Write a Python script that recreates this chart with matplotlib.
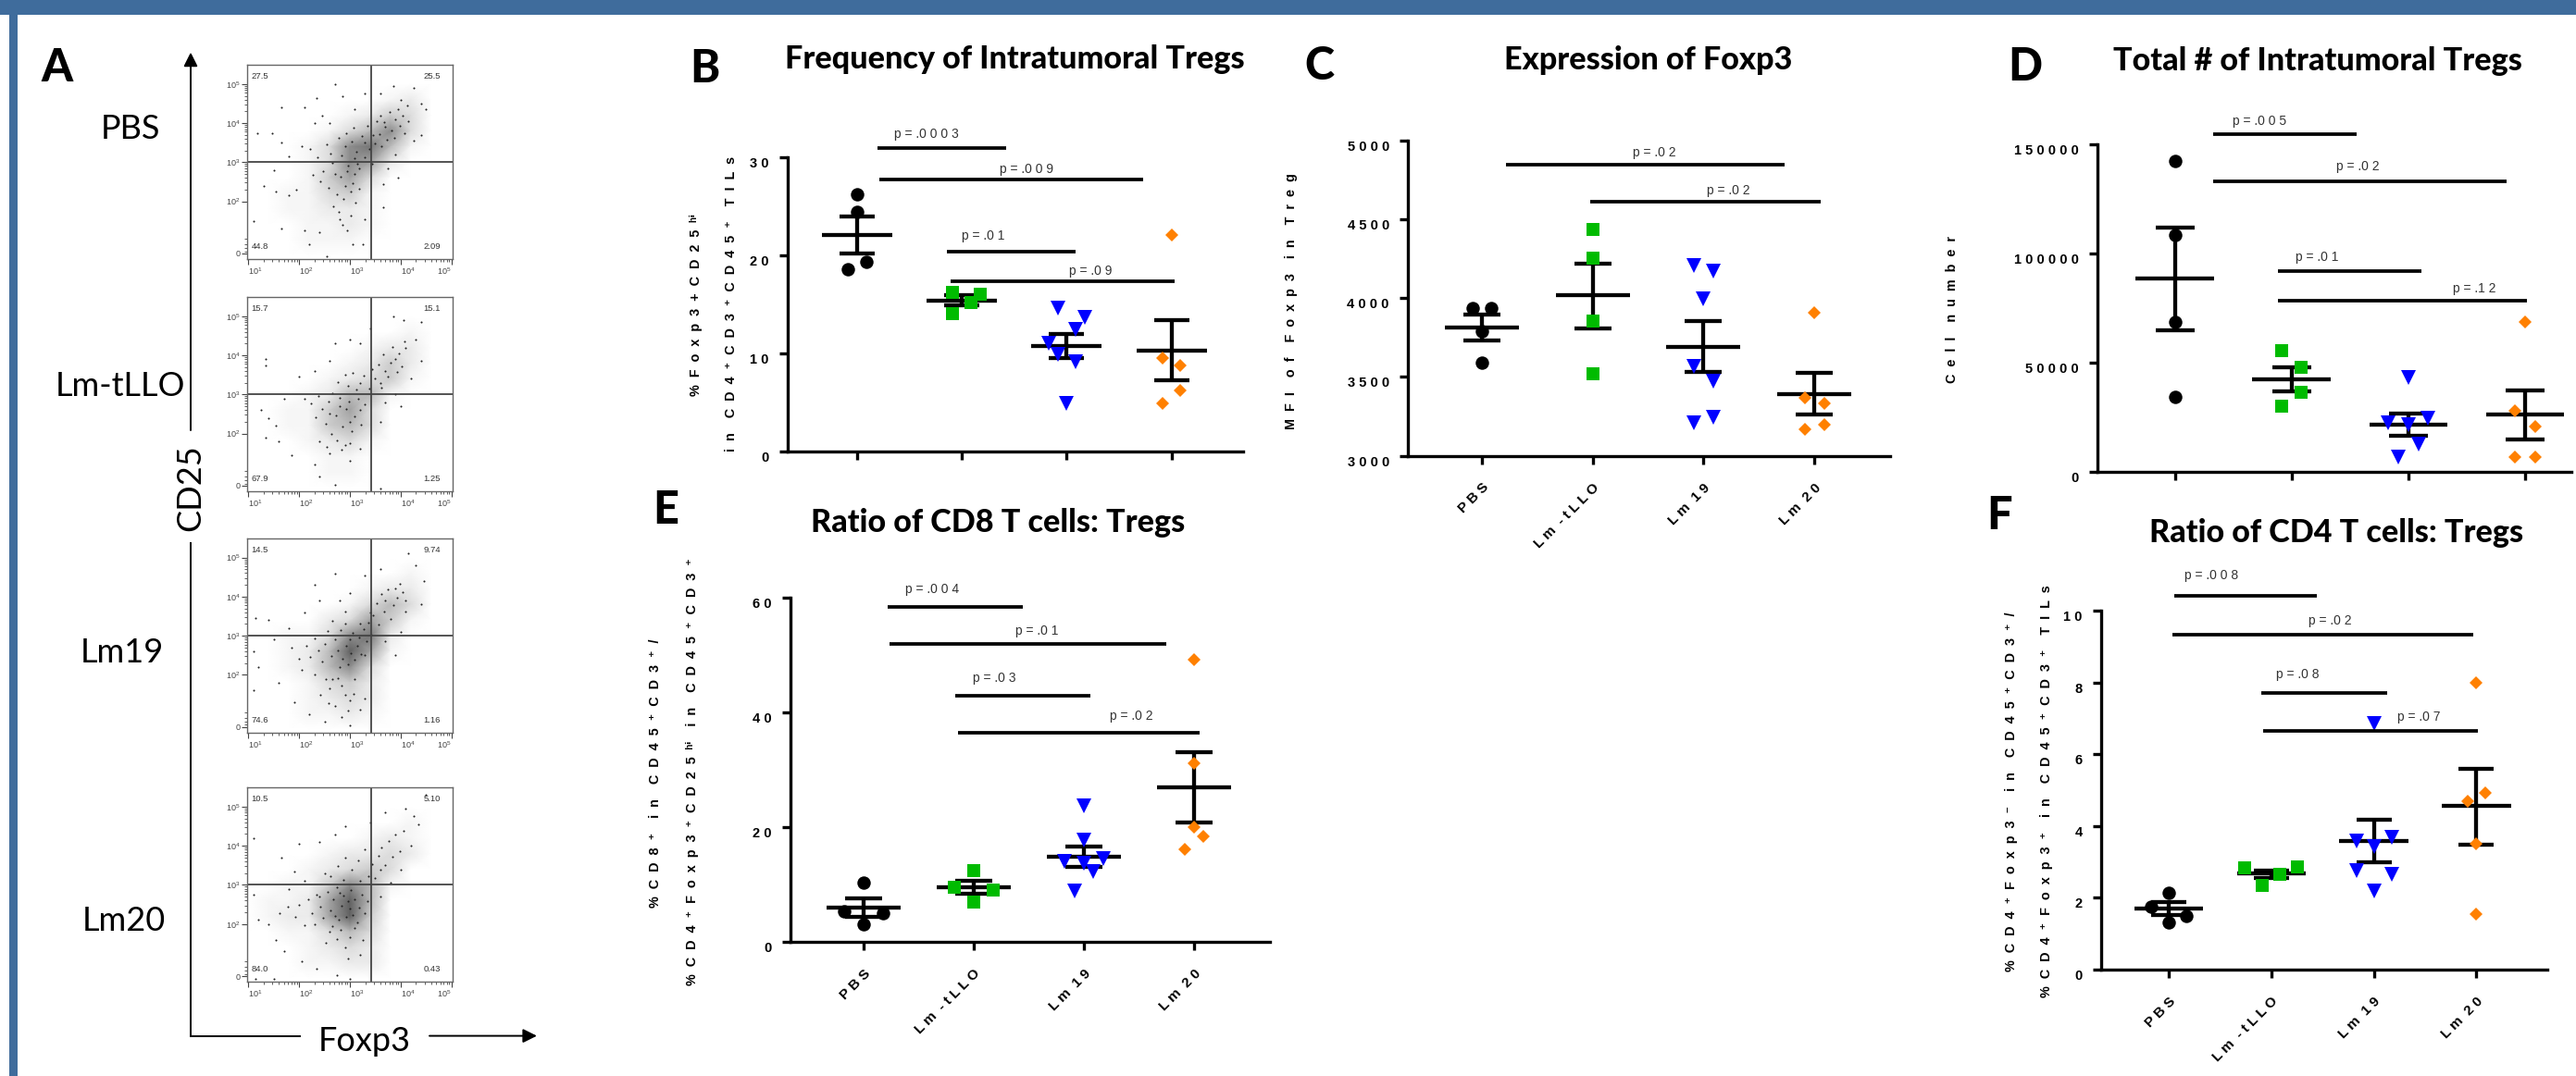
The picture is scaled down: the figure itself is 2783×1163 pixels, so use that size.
import numpy as np
from matplotlib import pyplot as plt
from matplotlib.patches import Rectangle

W, H = 2783, 1163
BLUE = "#3F6C9C"
GROUP_COLORS = ["black", "#00BB00", "#0000FF", "#FF8000"]
GROUP_MARKERS = ["o", "s", "v", "D"]
GROUP_SIZES = [10.4, 10.5, 11, 7.6]
GROUPS = ["P B S", "L m  - t L L O", "L m  1 9", "L m  2 0"]
HEAD_FONT = ["Lato", "DejaVu Sans"]

plt.rcParams["font.family"] = ["Liberation Sans", "DejaVu Sans"]
plt.rcParams["mathtext.default"] = "regular"

# panel B
b_values = [[26.2, 24.4, 19.3, 18.6], [16.2, 16.0, 15.2, 14.1],
            [14.65, 13.65, 12.45, 11.07, 9.87, 9.12, 4.9], [22.08, 9.56, 8.8, 6.26, 4.9]]
b_jitter = [[0, 0, 0.087, -0.087], [-0.087, 0.177, 0.087, -0.087],
            [-0.087, 0.174, 0.087, -0.174, -0.087, 0.087, 0], [0, -0.087, 0.087, 0.087, -0.087]]
b_means = [22.1, 15.4, 10.8, 10.3]
b_low = [20.2, 14.9, 9.56, 7.3]
b_high = [24.0, 15.9, 12.0, 13.4]
b_pvals = [(0.197, 1.424, 30.97, "p = .0 0 0 3", 0.659, 32.4), (0.213, 2.729, 27.74, "p = .0 0 9", 1.617, 28.8),
           (0.860, 2.086, 20.41, "p = .0 1", 1.207, 21.95), (0.891, 3.032, 17.36, "p = .0 9", 2.224, 18.36)]
b_ticks = [0, 10, 20, 30]
b_ticklabels = ["0", "1 0", "2 0", "3 0"]

# panel C
c_values = [[3936, 3936, 3788, 3590], [4437, 4255, 3855, 3519],
            [4205, 4170, 3994, 3566, 3476, 3245, 3209], [3905, 3370, 3330, 3198, 3166]]
c_jitter = [[-0.087, 0.087, 0, 0], [0, 0, 0, 0],
            [-0.087, 0.087, 0, -0.087, 0.087, 0.087, -0.087], [0, -0.087, 0.087, 0.087, -0.087]]
c_means = [3815, 4021, 3691, 3393]
c_low = [3732, 3808, 3532, 3263]
c_high = [3898, 4219, 3855, 3527]
c_pvals = [(0.216, 2.735, 4847, "p = .0 2", 1.56, 4921), (0.978, 3.06, 4612, "p = .0 2", 2.228, 4681)]
c_ticks = [3000, 3500, 4000, 4500, 5000]
c_ticklabels = ["3 0 0 0", "3 5 0 0", "4 0 0 0", "4 5 0 0", "5 0 0 0"]

# panel D
d_values = [[142400, 108300, 68700, 34100], [55300, 47900, 36200, 30100],
            [43000, 24300, 22500, 21400, 12600, 6650], [68400, 27900, 20500, 6650, 6650]]
d_jitter = [[0, 0, 0, 0], [-0.085, 0.085, 0.085, -0.085],
            [0, 0.17, -0.17, 0, 0.085, -0.085], [0, -0.085, 0.085, -0.085, 0.085]]
d_means = [88650, 42400, 21500, 26300]
d_low = [64800, 36900, 16400, 14700]
d_high = [111800, 47900, 26600, 37200]
d_pvals = [(0.331, 1.557, 154700, "p = .0 0 5", 0.725, 160600), (0.331, 2.844, 133100, "p = .0 2", 1.564, 139800),
           (0.885, 2.115, 91900, "p = .0 1", 1.219, 98300), (0.885, 3.018, 78300, "p = .1 2", 2.563, 83900)]
d_ticks = [0, 50000, 100000, 150000]
d_ticklabels = ["0", "5 0 0 0 0", "1 0 0 0 0 0", "1 5 0 0 0 0"]

# panel E
e_values = [[10.4, 5.25, 4.98, 3.03], [12.4, 9.48, 9.08, 6.86],
            [23.7, 17.75, 14.5, 14.0, 13.7, 12.3, 8.8], [49.2, 31.2, 20.0, 18.36, 16.2]]
e_jitter = [[0, -0.173, 0.173, 0], [0, -0.173, 0.173, 0],
            [0, 0, 0.173, -0.173, 0, 0.087, -0.087], [0, 0, 0, 0.087, -0.087]]
e_means = [5.99, 9.55, 14.86, 27.0]
e_low = [4.3, 8.34, 13.05, 20.8]
e_high = [7.6, 10.7, 16.6, 33.1]
e_pvals = [(0.218, 1.446, 58.44, "p = .0 0 4", 0.62, 61.5), (0.233, 2.749, 52.0, "p = .0 1", 1.577, 54.2),
           (0.83, 2.062, 42.9, "p = .0 3", 1.19, 45.9), (0.856, 3.053, 36.45, "p = .0 2", 2.433, 39.4)]
e_ticks = [0, 20, 40, 60]
e_ticklabels = ["0", "2 0", "4 0", "6 0"]

# panel F
f_values = [[2.15, 1.75, 1.5, 1.31], [2.83, 2.85, 2.66, 2.35],
            [6.85, 3.68, 3.58, 3.44, 2.76, 2.66, 2.2], [8.0, 4.93, 4.7, 3.5, 1.54]]
f_jitter = [[0, -0.168, 0.172, 0], [-0.256, 0.256, 0.084, -0.084],
            [0, 0.176, -0.172, 0, -0.172, 0.176, 0], [0, 0.088, -0.084, 0, 0]]
f_means = [1.7, 2.67, 3.58, 4.56]
f_low = [1.51, 2.56, 3.0, 3.49]
f_high = [1.88, 2.77, 4.17, 5.6]
f_pvals = [(0.053, 1.443, 10.41, "p = .0 0 8", 0.42, 10.98), (0.034, 2.966, 9.32, "p = .0 2", 1.576, 9.72),
           (0.9, 2.13, 7.71, "p = .0 8", 1.26, 8.23), (0.92, 3.011, 6.66, "p = .0 7", 2.443, 7.03)]
f_ticks = [0, 2, 4, 6, 8, 10]
f_ticklabels = ["0", "2", "4", "6", "8", "1 0"]

# panel A, flow plots: rough dot density read per cell, rows from high to low CD25
flow_x = [1.0, 1.4, 1.8, 2.2, 2.6, 3.0, 3.4, 3.8, 4.2, 4.6, 5.0]
flow_y = [4.6, 4.2, 3.8, 3.4, 3.0, 2.6, 2.2, 1.8, 1.4, 1.0]
pbs_density = [[0, 0, 0, 0, 0, 0, 0, 1, 2, 0, 0], [0, 0, 0, 0, 0, 1, 2, 4, 3, 0, 0],
               [0, 0, 0, 0, 1, 3, 5, 7, 3, 0, 0], [0, 0, 0, 1, 3, 7, 8, 5, 1, 0, 0],
               [0, 0, 0, 1, 3, 7, 6, 2, 0, 0, 0], [0, 0, 0, 1, 4, 6, 3, 0, 0, 0, 0],
               [0, 0, 1, 1, 3, 4, 1, 0, 0, 0, 0], [0, 0, 1, 1, 2, 2, 1, 0, 0, 0, 0],
               [0, 0, 0, 1, 1, 2, 1, 0, 0, 0, 0], [0, 0, 0, 1, 1, 1, 0, 0, 0, 0, 0]]
tllo_density = [[0, 0, 0, 0, 0, 0, 0, 0, 1, 0, 0], [0, 0, 0, 0, 0, 0, 1, 2, 2, 0, 0],
                [0, 0, 0, 0, 0, 1, 2, 4, 2, 0, 0], [0, 0, 0, 0, 1, 2, 3, 4, 1, 0, 0],
                [0, 0, 0, 1, 2, 5, 5, 1, 0, 0, 0], [0, 0, 1, 1, 4, 6, 3, 0, 0, 0, 0],
                [0, 0, 1, 1, 4, 5, 3, 0, 0, 0, 0], [0, 0, 0, 1, 2, 3, 1, 0, 0, 0, 0],
                [0, 0, 0, 0, 1, 1, 0, 0, 0, 0, 0], [0, 0, 0, 0, 1, 1, 0, 0, 0, 0, 0]]
lm19_density = [[0, 0, 0, 0, 0, 0, 0, 0, 1, 0, 0], [0, 0, 0, 0, 0, 0, 1, 2, 2, 0, 0],
                [0, 0, 0, 0, 0, 1, 3, 5, 3, 0, 0], [0, 0, 0, 0, 2, 3, 6, 4, 1, 0, 0],
                [0, 0, 1, 1, 3, 7, 8, 2, 0, 0, 0], [0, 0, 1, 2, 5, 9, 6, 1, 0, 0, 0],
                [0, 0, 1, 2, 5, 7, 3, 0, 0, 0, 0], [0, 0, 0, 1, 3, 4, 2, 0, 0, 0, 0],
                [0, 0, 0, 1, 2, 3, 2, 0, 0, 0, 0], [0, 0, 0, 1, 1, 2, 1, 0, 0, 0, 0]]
lm20_density = [[0, 0, 0, 0, 0, 0, 0, 0, 1, 0, 0], [0, 0, 0, 0, 0, 0, 1, 2, 1, 0, 0],
                [0, 0, 0, 0, 1, 2, 2, 3, 2, 0, 0], [0, 0, 0, 1, 2, 3, 4, 3, 0, 0, 0],
                [0, 0, 1, 1, 4, 7, 5, 1, 0, 0, 0], [0, 1, 1, 2, 6, 9, 5, 0, 0, 0, 0],
                [0, 1, 2, 2, 6, 9, 4, 0, 0, 0, 0], [0, 0, 1, 1, 3, 5, 3, 0, 0, 0, 0],
                [0, 0, 0, 1, 2, 3, 2, 0, 0, 0, 0], [0, 0, 0, 1, 1, 2, 2, 0, 0, 0, 0]]

pbs_dots = [(2.7, 5.0), (2.34, 4.65), (1.65, 4.4), (2.1, 4.4), (2.85, 4.7), (1.18, 3.75), (1.47, 3.75), (1.65, 3.5),
            (3.85, 4.95), (4.25, 4.9), (4.4, 4.5), (4.5, 4.35), (4.4, 3.7), (3.9, 3.2), (3.75, 2.85), (3.95, 2.6),
            (3.65, 2.45), (3.65, 1.85), (1.3, 2.4), (1.55, 2.25), (1.1, 1.5), (1.65, 1.3), (2.1, 1.25), (2.4, 1.2),
            (2.2, 0.9), (2.55, 0.6), (3.05, 0.9), (3.3, 1.55), (3.25, 0.9), (2.85, 1.4), (2.95, 1.25), (2.8, 1.55),
            (1.8, 2.15), (1.95, 2.3), (1.5, 2.8), (1.8, 3.15), (2.05, 3.4), (2.3, 4.0), (2.45, 4.2), (2.6, 4.0),
            (3.1, 4.35), (3.3, 4.75), (3.6, 4.75), (4.0, 4.6), (4.15, 4.05), (4.25, 3.55), (2.9, 3.4), (3.1, 3.1),
            (3.3, 3.5), (3.45, 3.7), (3.7, 3.9), (3.9, 4.1), (3.6, 4.2), (2.7, 2.7), (2.9, 2.4), (3.1, 2.7),
            (2.78, 3.62), (2.84, 3.18), (2.92, 3.74), (2.97, 2.92), (3.03, 3.52), (3.08, 3.88), (3.13, 3.28), (3.19, 2.84),
            (3.24, 3.66), (3.29, 3.12), (3.35, 3.94), (3.38, 3.34), (3.43, 2.96), (3.49, 3.48), (3.53, 4.06), (3.58, 3.72),
            (3.62, 3.42), (3.67, 4.02), (3.72, 3.58), (3.78, 4.28), (3.82, 3.82), (3.88, 3.62), (3.94, 4.36), (3.98, 3.94),
            (4.04, 4.18), (4.08, 3.74), (4.12, 4.46), (2.62, 3.22), (2.55, 3.46), (2.48, 2.78), (2.58, 2.34), (2.66, 2.98),
            (2.74, 2.18), (2.82, 2.62), (2.88, 2.06), (2.94, 2.76), (3.01, 2.24), (3.06, 2.46), (3.14, 2.96), (3.18, 2.32),
            (2.42, 2.52), (2.36, 3.12), (2.28, 2.68), (2.22, 3.34), (2.68, 1.88), (2.78, 1.72), (3.02, 1.64), (3.11, 1.96)]
tllo_dots = [(1.35, 3.9), (1.35, 3.75), (2.0, 3.45), (2.3, 3.6), (2.6, 3.85), (2.7, 4.3), (3.0, 4.4), (3.2, 4.3),
             (3.4, 4.7), (3.85, 5.0), (4.05, 4.9), (4.4, 4.85), (4.3, 4.4), (4.4, 3.85), (4.2, 3.4), (3.9, 3.0),
             (3.7, 2.8), (4.0, 2.7), (3.6, 2.3), (3.6, 0.6), (1.25, 2.6), (1.4, 2.4), (1.55, 2.2), (1.35, 1.9),
             (1.6, 1.8), (1.85, 1.45), (2.3, 1.2), (2.4, 0.9), (2.7, 0.7), (3.0, 1.3), (3.2, 1.6), (2.9, 1.7),
             (1.7, 2.9), (2.1, 2.9), (2.4, 1.8), (2.6, 1.5), (3.2, 3.3), (2.9, 3.5), (3.7, 3.6), (3.9, 3.9),
             (4.1, 4.2), (3.6, 3.3), (2.8, 2.7), (3.0, 2.3), (2.6, 2.5), (3.2, 2.6),
             (3.5, 3.42), (3.56, 3.76), (3.62, 3.18), (3.66, 4.02), (3.74, 3.46), (3.8, 3.82), (3.84, 4.22), (3.92, 3.58),
             (3.96, 4.06), (4.02, 3.72), (4.08, 4.36), (3.44, 3.64), (3.38, 3.16), (3.28, 3.48), (3.12, 3.12), (3.06, 3.56),
             (2.96, 3.22), (2.76, 3.32), (2.66, 3.04), (2.58, 2.82), (2.72, 2.46), (2.8, 2.92), (2.86, 2.18), (2.92, 2.62),
             (2.98, 2.82), (3.04, 2.06), (3.1, 2.44), (3.16, 2.88), (3.22, 2.22), (3.3, 2.74), (2.52, 2.26), (2.46, 2.64),
             (2.38, 2.96), (2.32, 2.42), (2.24, 2.78), (2.64, 1.98), (2.74, 1.82), (2.84, 1.58), (3.0, 1.76), (2.54, 1.66)]
lm19_dots = [(1.15, 3.45), (1.4, 3.4), (2.3, 4.3), (2.7, 4.6), (3.3, 4.55), (3.6, 4.7), (4.15, 5.1), (4.3, 4.8),
             (4.45, 4.4), (4.4, 3.8), (4.0, 3.1), (3.7, 2.85), (3.9, 2.5), (1.1, 2.6), (1.2, 2.2), (1.1, 1.6),
             (1.6, 1.8), (1.9, 1.3), (2.2, 1.0), (2.5, 0.8), (3.0, 0.7), (3.2, 1.1), (3.3, 1.4), (1.5, 2.9),
             (1.8, 3.2), (2.1, 3.6), (2.4, 3.9), (2.8, 3.9), (3.0, 4.1), (2.65, 1.9), (2.9, 1.5), (2.7, 1.2),
             (3.1, 1.9), (2.0, 2.4), (2.3, 2.0), (1.85, 2.7), (2.5, 2.8), (2.8, 2.2), (3.0, 2.9), (3.2, 3.3),
             (3.4, 3.6), (3.7, 3.9), (3.9, 4.2), (4.1, 3.9), (2.9, 3.3), (3.3, 2.5),
             (2.56, 3.12), (2.64, 2.48), (2.7, 2.92), (2.76, 2.62), (2.82, 3.14), (2.86, 2.42), (2.92, 2.74), (2.96, 2.28),
             (3.02, 2.56), (3.06, 3.08), (3.1, 2.38), (3.14, 2.74), (3.18, 2.96), (3.22, 2.52), (3.27, 3.18), (3.32, 2.86),
             (3.36, 3.34), (3.41, 3.02), (3.46, 3.52), (3.52, 3.84), (3.56, 3.28), (3.62, 4.06), (3.68, 3.62), (3.74, 4.18),
             (3.8, 3.44), (3.86, 3.78), (3.92, 3.98), (3.98, 4.32), (4.04, 4.12), (4.1, 3.62), (2.46, 2.34), (2.38, 2.62),
             (2.3, 2.94), (2.22, 2.46), (2.14, 2.74), (2.06, 2.12), (2.52, 1.88), (2.6, 1.66), (2.76, 1.92), (2.84, 1.72),
             (3.0, 1.34), (2.96, 1.08), (2.84, 0.92), (3.08, 1.52), (2.58, 1.28), (2.42, 1.48), (2.9, 3.62), (2.66, 3.38)]
lm20_dots = [(1.1, 4.2), (1.65, 3.7), (1.9, 3.35), (2.0, 4.05), (2.4, 4.1), (2.7, 4.3), (2.9, 4.5), (3.4, 4.6),
             (3.7, 4.85), (4.1, 4.95), (4.25, 4.75), (4.35, 4.55), (4.2, 4.0), (4.0, 3.4), (3.8, 3.05), (3.6, 2.7),
             (4.5, 5.3), (1.1, 2.75), (1.2, 2.1), (1.4, 2.0), (1.55, 1.6), (1.7, 1.3), (2.05, 1.05), (2.35, 0.85),
             (2.75, 0.7), (3.0, 0.6), (3.2, 1.2), (3.25, 1.6), (1.15, 0.6), (1.5, 0.6), (1.8, 2.9), (2.1, 3.1),
             (2.5, 3.3), (2.9, 3.7), (3.3, 3.9), (3.6, 3.4), (2.3, 2.0), (2.6, 1.8), (2.9, 1.4), (3.1, 1.9),
             (2.0, 2.5), (2.4, 2.7), (2.7, 2.2), (3.0, 2.4), (2.8, 2.8), (3.2, 3.1),
             (2.56, 2.82), (2.62, 2.34), (2.68, 2.62), (2.74, 2.94), (2.78, 2.12), (2.84, 2.46), (2.88, 2.72), (2.92, 2.18),
             (2.96, 2.58), (3.02, 2.86), (3.06, 2.22), (3.1, 2.64), (3.14, 2.04), (3.18, 2.42), (3.24, 2.76), (3.3, 2.28),
             (3.34, 2.58), (2.48, 2.16), (2.42, 2.44), (2.34, 2.76), (2.26, 2.28), (2.18, 2.62), (2.1, 1.98), (1.92, 2.18),
             (1.78, 2.44), (1.62, 2.28), (2.66, 1.94), (2.74, 1.62), (2.82, 1.84), (3.0, 1.66), (2.52, 1.52), (2.96, 1.12),
             (3.36, 3.22), (3.44, 3.54), (3.5, 3.18), (3.56, 3.74), (3.62, 3.96), (3.7, 3.5), (3.76, 4.12), (3.84, 3.72),
             (3.9, 4.28), (3.98, 3.86), (4.06, 4.38), (2.62, 3.22), (2.76, 3.48), (2.88, 3.12), (3.04, 3.38), (3.16, 3.62)]
gate_x = 3.42
gate_y = 3.0
flow_tops = [69.7, 320.7, 581.5, 850.8]
flow_names = ["PBS", "Lm-tLLO", "Lm19", "Lm20"]
flow_quadrants = [("27.5", "25.5", "44.8", "2.09"), ("15.7", "15.1", "67.9", "1.25"),
                  ("14.5", "9.74", "74.6", "1.16"), ("10.5", "5.10", "84.0", "0.43")]
name_centers = [(141, 140), (130, 418), (132, 706), (134, 995)]


def px_axes(fig, x0, x1, ytop, ybottom):
    return fig.add_axes([x0 / W, 1 - ybottom / H, (x1 - x0) / W, (ybottom - ytop) / H])


def px_text(fig, x, y, s, **kwargs):
    kwargs.setdefault("ha", "center")
    kwargs.setdefault("va", "center")
    fig.text(x / W, 1 - y / H, s, **kwargs)


def flow_panel(fig, ytop, density, dots, quadrants):
    ax = px_axes(fig, 267, 489, ytop, ytop + 210)
    # zero margin round the grid so the shading fades out
    grid_x = [flow_x[0] - 0.4] + flow_x + [flow_x[-1] + 0.4]
    grid_y = [flow_y[0] + 0.4] + flow_y + [flow_y[-1] - 0.4]
    ax.pcolormesh(grid_x, grid_y, np.pad(np.array(density), 1), shading="gouraud", cmap="Greys", vmin=0, vmax=13)
    ax.scatter(*zip(*dots), s=2.2, color="#222222", linewidths=0)
    ax.axvline(gate_x, color="#444444", lw=1.3)
    ax.axhline(gate_y, color="#444444", lw=1.3)
    ax.set_xlim(0.98, 5.02)
    ax.set_ylim(0.53, 5.5)
    ax.set_xticks([1, 2, 3, 4, 5])
    ax.set_xticklabels(["$10^{%d}$" % d for d in range(1, 6)], fontsize=6.5, color="#444444")
    ax.set_yticks([0.667, 2, 3, 4, 5])
    ax.set_yticklabels(["0"] + ["$10^{%d}$" % d for d in range(2, 6)], fontsize=6.5, color="#444444")
    minor = [d + np.log10(m) for d in range(1, 5) for m in range(2, 10)]
    ax.set_xticks(minor, minor=True)
    ax.set_yticks([m for m in minor if m > 2] + [0.72, 0.8, 0.9, 1.05], minor=True)
    ax.tick_params(length=4, width=0.8, color="#444444", pad=1.5)
    ax.tick_params(which="minor", length=2, width=0.6, color="#444444")
    for lab in ax.get_xticklabels()[:-1]:
        lab.set_ha("left")
    ax.get_xticklabels()[-1].set_ha("right")
    for spine in ax.spines.values():
        spine.set_color("#666666")
        spine.set_linewidth(1)
    for (x, y, s) in zip((1.06, 4.78, 1.06, 4.78), (5.2, 5.2, 0.84, 0.84), quadrants):
        ax.text(x, y, s, fontsize=6.8, color="#333333", ha="left" if x < 3 else "right", va="center")


def dot_panel(fig, box, tick0, spacing, values, jitter, means, low, high, pvals, ticks, ticklabels, ylim, show_groups):
    x0, x1, ytop, ybottom = box
    ax = px_axes(fig, x0, x1, ytop, ybottom)
    ax.set_xlim((x0 - tick0) / spacing, (x1 - tick0) / spacing)
    ax.set_ylim(*ylim)
    cap_pt = 0.167 * spacing * 0.72
    for i in range(4):
        ax.errorbar([i], [means[i]], yerr=[[means[i] - low[i]], [high[i] - means[i]]], color="black",
                    elinewidth=3.1, capsize=cap_pt, capthick=3.1, zorder=2)
        ax.plot([i - 0.335, i + 0.335], [means[i], means[i]], color="black", lw=3.1, solid_capstyle="butt", zorder=2)
        ax.plot([i + j for j in jitter[i]], values[i], ls="none", marker=GROUP_MARKERS[i], ms=GROUP_SIZES[i],
                color=GROUP_COLORS[i], mew=0, zorder=3, clip_on=False)
    for (a, b, y, label, tx, ty) in pvals:
        ax.plot([a, b], [y, y], color="black", lw=2.7, solid_capstyle="butt", clip_on=False, zorder=5)
        ax.text(tx, ty, label, fontsize=10, color="#333333", ha="center", va="center", clip_on=False)
    for side in ("top", "right"):
        ax.spines[side].set_visible(False)
    for side in ("left", "bottom"):
        ax.spines[side].set_linewidth(2.4)
    ax.set_yticks(ticks)
    ax.set_yticklabels(ticklabels, fontsize=10.5, fontweight="bold")
    plt.setp(ax.get_yticklabels(), va="top")
    ax.set_xticks(range(4))
    if show_groups:
        ax.set_xticklabels(GROUPS, fontsize=11, fontweight="bold", rotation=45, ha="right", rotation_mode="anchor")
    else:
        ax.set_xticklabels([])
    ax.tick_params(axis="y", length=6.5, width=2.4, pad=8)
    ax.tick_params(axis="x", length=6.5, width=2.4, pad=13)
    ax.patch.set_alpha(0)
    return ax


def set_title(ax, box, text, cx, baseline):
    x0, x1, ytop, ybottom = box
    ax.set_title(text, x=(cx - x0) / (x1 - x0), y=(ybottom - baseline) / (ybottom - ytop), ha="center",
                 va="baseline", pad=0, fontsize=24.6, fontweight=900, family=HEAD_FONT)


def caption(fig, x, y, s):
    px_text(fig, x, y, s.replace(" ", "  "), fontsize=10.4, fontweight="bold", rotation=90)


def main():
    fig = plt.figure(figsize=(W / 100, H / 100), dpi=100, facecolor="white")
    fig.add_artist(Rectangle((0, 1 - 15.5 / H), 1, 15.5 / H, transform=fig.transFigure, color=BLUE, lw=0))
    fig.add_artist(Rectangle((10 / W, 0), 9 / W, 1, transform=fig.transFigure, color=BLUE, lw=0))

    # panel A
    densities = [pbs_density, tllo_density, lm19_density, lm20_density]
    dots = [pbs_dots, tllo_dots, lm19_dots, lm20_dots]
    for i in range(4):
        flow_panel(fig, flow_tops[i], densities[i], dots[i], flow_quadrants[i])
        px_text(fig, name_centers[i][0], name_centers[i][1], flow_names[i], fontsize=26, family=HEAD_FONT)
    px_text(fig, 206, 527, "CD25", fontsize=26, rotation=90, family=HEAD_FONT)
    px_text(fig, 394, 1125, "Foxp3", fontsize=26, family=HEAD_FONT)
    overlay = fig.add_axes([0, 0, 1, 1], facecolor="none")
    overlay.set_xlim(0, W)
    overlay.set_ylim(H, 0)
    overlay.axis("off")
    overlay.plot([206, 206], [587, 1119.6], color="black", lw=1.4)
    overlay.plot([206, 324], [1119.6, 1119.6], color="black", lw=1.4)
    overlay.annotate("", xy=(206, 56.6), xytext=(206, 465),
                     arrowprops=dict(arrowstyle="-|>,head_length=0.9,head_width=0.45", color="black", lw=1.4, shrinkA=0, shrinkB=0))
    overlay.annotate("", xy=(580, 1119.6), xytext=(464, 1119.6),
                     arrowprops=dict(arrowstyle="-|>,head_length=0.9,head_width=0.45", color="black", lw=1.4, shrinkA=0, shrinkB=0))

    box = (851, 1343, 170, 488)
    ax = dot_panel(fig, box, 926, 113.2, b_values, b_jitter, b_means, b_low, b_high, b_pvals, b_ticks, b_ticklabels, (0, 30), False)
    set_title(ax, box, "Frequency of Intratumoral Tregs", 1096, 74)

    box = (1521, 2042, 151.7, 492.7)
    ax = dot_panel(fig, box, 1601, 119.7, c_values, c_jitter, c_means, c_low, c_high, c_pvals, c_ticks, c_ticklabels, (3000, 5000), True)
    set_title(ax, box, "Expression of Foxp3", 1781, 75)

    box = (2265.6, 2778, 156, 509.7)
    ax = dot_panel(fig, box, 2349.5, 126.2, d_values, d_jitter, d_means, d_low, d_high, d_pvals, d_ticks, d_ticklabels, (0, 150000), False)
    set_title(ax, box, "Total # of Intratumoral Tregs", 2504, 75.7)

    box = (854, 1372, 646, 1018)
    ax = dot_panel(fig, box, 933, 119, e_values, e_jitter, e_means, e_low, e_high, e_pvals, e_ticks, e_ticklabels, (0, 60), True)
    set_title(ax, box, "Ratio of CD8 T cells: Tregs", 1078, 574.6)

    box = (2270, 2752, 660, 1048)
    ax = dot_panel(fig, box, 2343, 110.8, f_values, f_jitter, f_means, f_low, f_high, f_pvals, f_ticks, f_ticklabels, (0, 10), True)
    set_title(ax, box, "Ratio of CD4 T cells: Tregs", 2524.5, 586)

    # y axis captions, double space marks a word gap
    caption(fig, 752, 330, "% F o x p 3 + C D 2 5 ʰⁱ")
    caption(fig, 790, 328, "i n  C D 4 ⁺ C D 3 ⁺ C D 4 5 ⁺  T I L s")
    caption(fig, 1395, 326, "M F I  o f  F o x p 3  i n  T r e g")
    caption(fig, 2109, 334, "C e l l  n u m b e r")
    caption(fig, 708, 836, "% C D 8 ⁺  i n  C D 4 5 ⁺ C D 3 ⁺ /")
    caption(fig, 748, 834, "% C D 4 ⁺ F o x p 3 ⁺ C D 2 5 ʰⁱ  i n  C D 4 5 ⁺ C D 3 ⁺")
    caption(fig, 2173, 856, "% C D 4 ⁺ F o x p 3 ⁻  i n  C D 4 5 ⁺ C D 3 ⁺ /")
    caption(fig, 2211, 855, "% C D 4 ⁺ F o x p 3 ⁺  i n  C D 4 5 ⁺ C D 3 ⁺  T I L s")

    # panel letters
    for (s, x, y) in [("A", 62, 74), ("B", 761, 74.5), ("C", 1425, 71), ("D", 2187.5, 72.5), ("E", 719.5, 552), ("F", 2159.5, 558)]:
        px_text(fig, x, y, s, fontsize=35, fontweight=900, family=HEAD_FONT)

    fig.savefig("out.png", dpi=100)


main()
